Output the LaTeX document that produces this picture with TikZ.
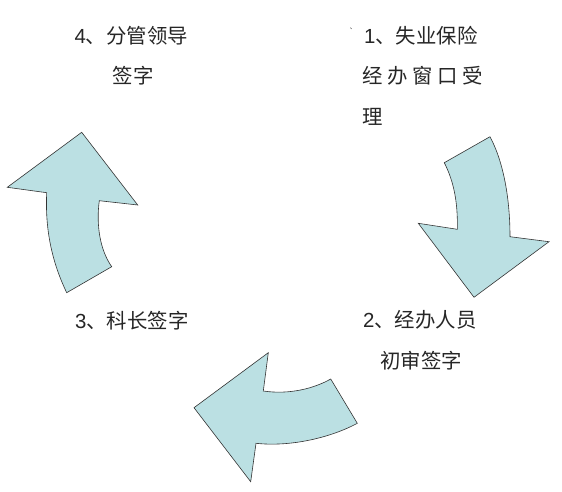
\documentclass[tikz,border=0pt]{standalone}
\usepackage{fontspec}
\setmainfont{Noto Sans CJK SC}
\newfontfamily\numfont{Liberation Sans}
\usepackage{xcolor}
\definecolor{arrowcol}{RGB}{187,224,227}
\colorlet{textcol}{black!85}
\tikzstyle{bend arrow}=[draw=black!80,fill=arrowcol,line width=0.6pt,line join=miter]
\tikzstyle{step text}=[text=textcol,inner sep=0pt,font=\fontsize{20.4}{24}\selectfont]

\begin{document}
\begin{tikzpicture}[x=1pt,y=-1pt]
    \useasboundingbox (0,0) rectangle (562,492);

    % step texts
    \node[step text,anchor=base west] (lead) at (74.3,43.5) {{\numfont 4}、分管领导};
    \node[step text,anchor=base] (leadsign) at (133,83.5) {签字};
    \node[step text,anchor=base west] (accept) at (364,43.5) {{\numfont 1}、失业保险};
    \node[step text,anchor=base west] (acceptb) at (362.5,84) {经 办 窗 口 受};
    \node[step text,anchor=base west] (acceptc) at (362.5,124.5) {理};
    \node[step text,anchor=base west] (chief) at (75,328) {{\numfont 3}、科长签字};
    \node[step text,anchor=base west] (clerk) at (363,327) {{\numfont 2}、经办人员};
    \node[step text,anchor=base] (clerkb) at (421.3,368) {初审签字};
    \draw[textcol,line width=0.5pt] (350.6,27.6) -- (351.4,29);

    % curved arrows
    \draw[bend arrow] (490,136.7) .. controls (504,163) and (510,200) .. (510,236.7)
        -- (549,241.7) -- (474,297.3) -- (418.3,223.3) -- (457.3,229.3)
        .. controls (458,200) and (453,180) .. (444.3,162.7) -- cycle;
    \draw[bend arrow] (357.3,423.3) .. controls (330,438) and (290,447) .. (256,443.3)
        -- (250.7,481.7) -- (194,407.7) -- (268.3,352.7) -- (263.3,391)
        .. controls (290,395) and (315,388) .. (330.7,379) -- cycle;
    \draw[bend arrow] (66.7,292.7) .. controls (52,262) and (45,230) .. (46.7,192.7)
        -- (7.3,187.3) -- (81.7,132.3) -- (137.7,205) -- (99.3,200.7)
        .. controls (96,225) and (100,250) .. (111.7,266.7) -- cycle;

\end{tikzpicture}
\end{document}
